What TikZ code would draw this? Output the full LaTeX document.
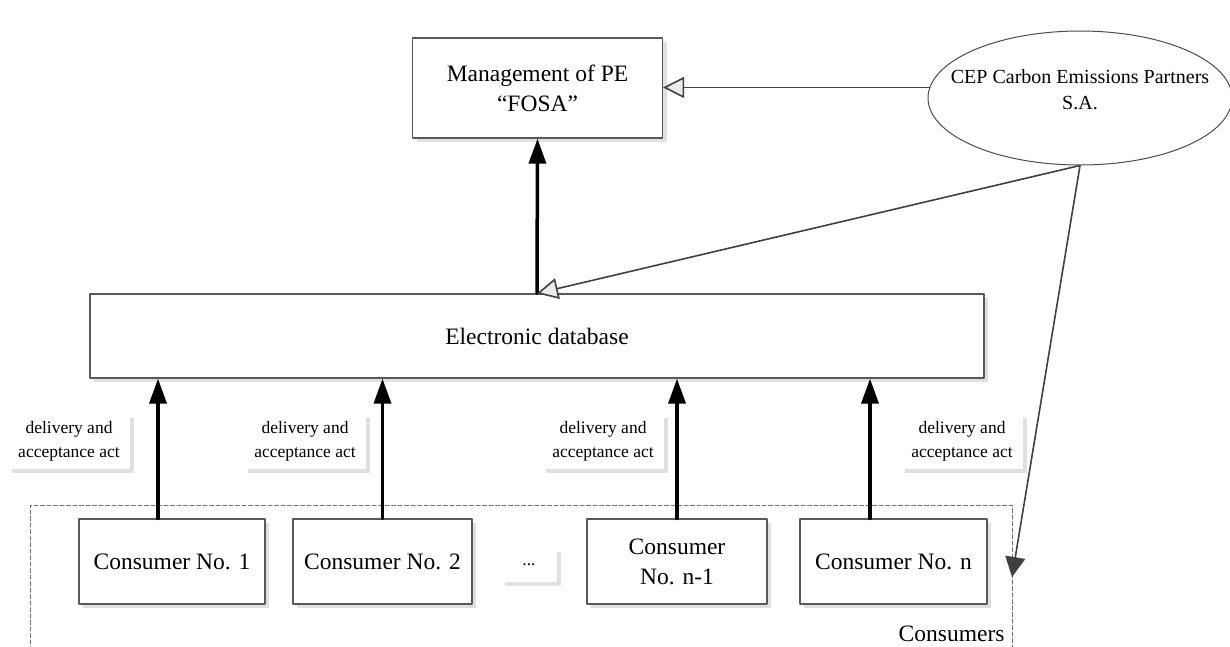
\documentclass[tikz,border=0pt]{standalone}
\usepackage{fontspec}
\setmainfont{Liberation Serif}
\usetikzlibrary{shapes.geometric,shadows,arrows.meta}

\begin{document}
\begin{tikzpicture}[x=1pt,y=-1pt,line cap=round,line join=round,
  shad/.style={drop shadow={shadow xshift=4pt,shadow yshift=-4pt,fill=black!12,opacity=1}},
  box/.style={draw=black!65,line width=1.2pt,fill=white,shad,align=center,
    inner sep=0pt,minimum height=85pt,font=\fontsize{23.5}{30}\selectfont},
  lbl/.style={fill=white,shad,align=center,inner sep=0pt,minimum width=122pt,
    minimum height=55pt,font=\fontsize{17.5}{24}\selectfont},
  up/.style={line width=3.5pt,-{Triangle[length=25pt,width=17pt]}},
  opn/.style={draw=black!75,line width=1.6pt,
    -{Triangle[open,fill=black!8,length=21pt,width=21pt,line width=1.6pt]}},
  cls/.style={draw=black!75,line width=1.6pt,
    -{Triangle[fill=black!75,length=20pt,width=20pt]}}]
\useasboundingbox (0,0) rectangle (1230,646);
\clip (0,0) rectangle (1230,646);

% top
\node[box,minimum width=250pt,minimum height=100pt] (mgmt) at (537.5,88)
  {Management of PE\\``FOSA''};
\node[ellipse,draw=black!70,line width=1pt,fill=white,inner sep=0pt,
  minimum width=304pt,minimum height=134pt] (cep) at (1080,98) {};
\node[align=center,font=\fontsize{20}{26}\selectfont] (ceptxt)
  at ([yshift=8pt]cep.center) {CEP Carbon Emissions Partners\\S.A.};

% database
\node[box,minimum width=894pt,minimum height=84pt] (db) at (537,336)
  {Electronic database};

% consumers
\draw[black!55,line width=1pt,dash pattern=on 4pt off 2.5pt] (30,670) -- (30,505)
  -- (1012,505) -- (1012,670);
\coordinate (grp) at (1012,577);
\node[anchor=east,font=\fontsize{23.5}{28}\selectfont] (cons) at (1008,634) {Consumers};

\node[box,minimum width=186pt] (c1) at (172,561.5) {Consumer No. 1};
\node[box,minimum width=179pt] (c2) at (382.5,561.5) {Consumer No. 2};
\node[lbl,minimum width=56pt,minimum height=34pt] (dots) at (529,565) {...};
\node[box,minimum width=180pt] (cn1) at (677,561.5) {Consumer\\No. n-1};
\node[box,minimum width=187pt] (cn) at (893.5,561.5) {Consumer No. n};

\foreach \l/\x in {l1/69,l2/305,l3/603,l4/962}
  \node[lbl] (\l) at (\x,441) {delivery and\\acceptance act};

% arrows
\foreach \c/\s in {c1/-14,c2/0,cn1/0,cn/-23.5}
  \draw[up] ([xshift=\s pt]\c.north) -- ([xshift=\s pt]\c.north |- db.south);
\draw[up] (db.north) -- (mgmt.south);
\draw[opn] (cep.176) -- (cep.176 -| mgmt.east);
\draw[opn] (cep.south) -- (db.north);
\draw[cls] (cep.south) -- (grp);
\end{tikzpicture}
\end{document}
